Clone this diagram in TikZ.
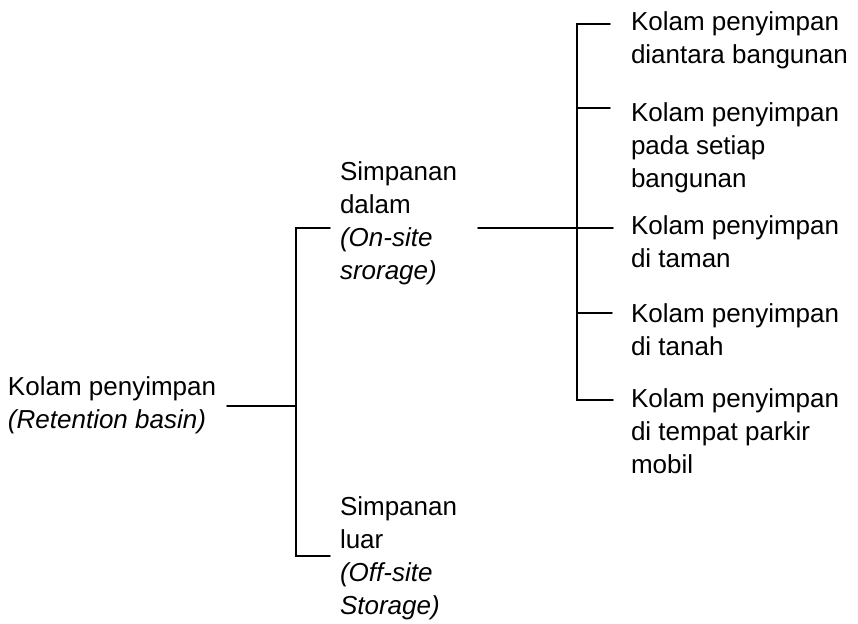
\documentclass[tikz,border=0pt]{standalone}
\usepackage{fontspec}
\setmainfont{Liberation Sans}
\begin{document}
\begin{tikzpicture}[x=1pt,y=-1pt,
  lbl/.style={anchor=base west,inner sep=0pt,outer sep=0pt,align=left,
    font=\fontsize{26}{33}\selectfont},
  conn/.style={line width=1.6pt,line cap=round,line join=miter}]
\useasboundingbox (0,0) rectangle (858,623);
% text nodes (base anchor = baseline of the last line)
\node[lbl] (root) at (8,428) {Kolam penyimpan\\\textit{(Retention basin)}};
\node[lbl] (on) at (340,279) {Simpanan\\dalam\\\textit{(On-site}\\\textit{srorage)}};
\node[lbl] (off) at (340,614) {Simpanan\\luar\\\textit{(Off-site}\\\textit{Storage)}};
\node[lbl] (r1) at (631,64) {Kolam penyimpan\\diantara bangunan};
\node[lbl] (r2) at (631,187) {Kolam penyimpan\\pada setiap\\bangunan};
\node[lbl] (r3) at (631,267) {Kolam penyimpan\\di taman};
\node[lbl] (r4) at (631,355) {Kolam penyimpan\\di tanah};
\node[lbl] (r5) at (631,473) {Kolam penyimpan\\di tempat parkir\\mobil};
% junction coordinates
\coordinate (rootend) at (227,406);
\coordinate (lj) at (296,406);
\coordinate (ltop) at (296,228);
\coordinate (lbot) at (296,556);
\coordinate (ontick) at (330,228);
\coordinate (offtick) at (330,556);
\coordinate (onend) at (478,228);
\coordinate (rj) at (577,228);
\coordinate (rtop) at (577,24);
\coordinate (rbot) at (577,400);
\coordinate (t1) at (610,24);
\coordinate (t2a) at (577,108);
\coordinate (t2) at (610,108);
\coordinate (t3) at (613,228);
\coordinate (t4a) at (577,313);
\coordinate (t4) at (612,313);
\coordinate (t5) at (613,400);
% connectors
\draw[conn] (rootend) -- (lj);
\draw[conn] (ontick) -- (ltop) -- (lbot) -- (offtick);
\draw[conn] (onend) -- (rj);
\draw[conn] (t1) -- (rtop) -- (rbot) -- (t5);
\draw[conn] (t2a) -- (t2);
\draw[conn] (rj) -- (t3);
\draw[conn] (t4a) -- (t4);
\end{tikzpicture}
\end{document}
